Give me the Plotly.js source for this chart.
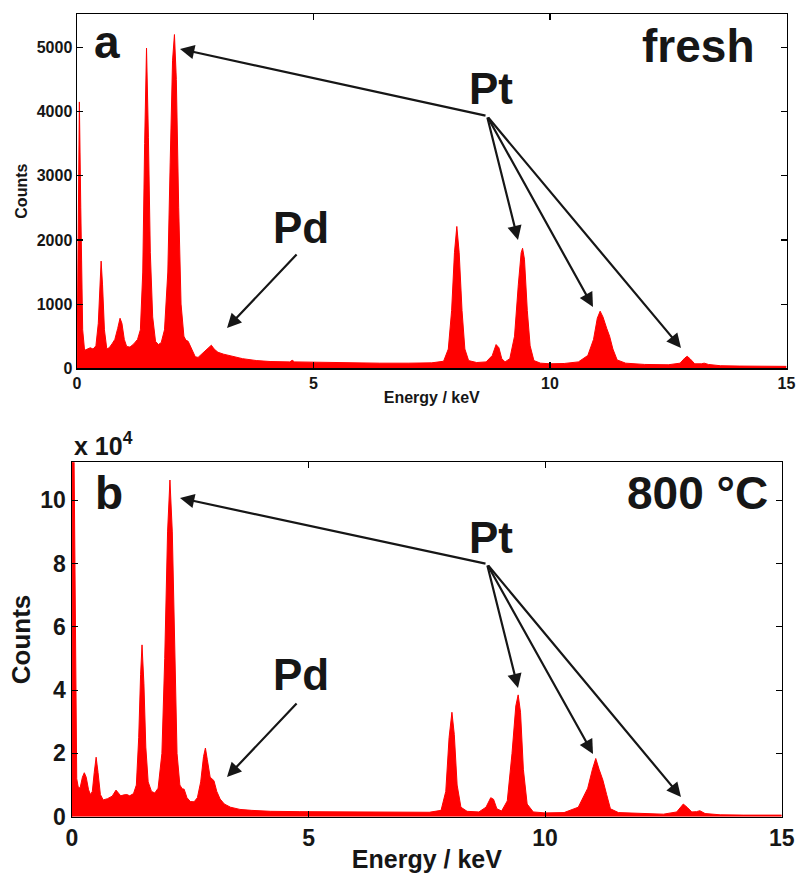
<!DOCTYPE html>
<html>
<head>
<meta charset="utf-8">
<script src="https://cdn.plot.ly/plotly-3.0.1.min.js"></script>
<style>html,body{margin:0;padding:0;background:#fff;}#chart{width:798px;height:873px;}</style>
</head>
<body>
<div id="chart"></div>
<script>
// ---- data ----
const energyA = [0.00,0.02,0.05,0.08,0.12,0.16,0.22,0.28,0.34,0.40,0.45,0.49,0.51,0.54,0.58,0.63,0.68,0.74,0.80,0.86,0.91,0.95,1.00,1.05,1.12,1.20,1.28,1.34,1.39,1.43,1.47,1.51,1.55,1.60,1.66,1.72,1.78,1.85,1.92,1.97,2.02,2.06,2.10,2.15,2.20,2.26,2.30,2.35,2.42,2.50,2.56,2.63,2.70,2.78,2.84,2.90,2.98,3.10,3.30,3.50,3.80,4.10,4.50,4.55,4.60,5.20,5.80,6.40,7.00,7.50,7.75,7.85,7.92,7.98,8.03,8.08,8.14,8.20,8.28,8.45,8.65,8.78,8.86,8.92,8.98,9.05,9.15,9.25,9.33,9.39,9.42,9.46,9.52,9.58,9.66,9.80,10.00,10.30,10.60,10.80,10.92,11.00,11.06,11.12,11.20,11.26,11.33,11.42,11.60,12.00,12.50,12.75,12.85,12.90,12.96,13.06,13.20,13.26,13.35,13.60,14.00,14.50,15.00];
const countsA = [0,2000,4150,2500,600,280,300,320,300,350,700,1400,1670,1300,600,300,320,380,450,620,780,700,450,340,330,380,450,600,1500,3500,4990,3600,1800,800,420,370,400,600,1500,3200,4800,5200,4500,2500,1000,500,440,420,300,180,170,220,260,320,360,300,250,220,180,150,120,105,100,125,100,90,85,80,80,85,110,300,900,1800,2210,1800,900,300,120,90,100,200,370,320,150,100,150,500,1300,1800,1870,1700,900,350,120,80,70,75,100,200,450,780,890,800,620,500,300,130,80,60,55,80,160,187,150,70,70,80,60,40,35,30,30];

const energyB = [0.00,0.01,0.04,0.07,0.10,0.13,0.17,0.22,0.26,0.30,0.35,0.39,0.43,0.47,0.51,0.55,0.60,0.66,0.75,0.85,0.93,0.98,1.03,1.10,1.16,1.22,1.30,1.36,1.41,1.45,1.48,1.52,1.56,1.61,1.68,1.75,1.82,1.90,1.96,2.02,2.07,2.12,2.17,2.22,2.28,2.33,2.37,2.43,2.50,2.58,2.65,2.72,2.78,2.82,2.86,2.92,3.00,3.06,3.13,3.22,3.35,3.55,3.80,4.20,4.80,5.50,6.20,7.00,7.55,7.80,7.90,7.97,8.03,8.08,8.14,8.22,8.35,8.60,8.75,8.85,8.91,8.98,9.08,9.20,9.30,9.38,9.43,9.48,9.54,9.62,9.75,10.00,10.40,10.70,10.90,11.00,11.07,11.14,11.22,11.30,11.38,11.55,12.00,12.50,12.78,12.92,13.00,13.10,13.20,13.27,13.38,13.70,14.20,15.00];
const countsB = [0,120000,120000,50000,12000,9500,9000,12500,13900,12500,8500,7000,8000,14000,18800,14000,7000,5300,5700,6500,8400,7500,6600,6900,7000,6600,7300,10000,25000,45000,54300,42000,22000,11000,8000,7500,9000,20000,50000,90000,106400,90000,50000,20000,10000,8800,8700,6000,4800,4700,6000,11000,19000,21700,18000,12500,11400,8000,5600,4000,3000,2300,2000,1700,1600,1500,1400,1300,1400,2000,8000,25000,33000,26000,10000,3000,1700,1500,3000,6000,5500,2500,1800,5000,20000,35000,38500,33000,15000,4000,1500,1200,1300,3000,9000,15000,18400,15000,11600,7000,2500,1300,1000,800,1500,4000,3000,1500,1600,1900,1000,600,500,500];

const xTicks = [0, 5, 10, 15];
const yTicksA = [0, 1000, 2000, 3000, 4000, 5000];
const yTicksB = [0, 20000, 40000, 60000, 80000, 100000];
const yTickTextB = ['0', '2', '4', '6', '8', '10'];

// ---- layout helpers ----
const W = 798, H = 873;
const px = v => v / W;
const py = v => 1 - v / H;
const FONT = 'Liberation Sans, Arial, sans-serif';
const INK = '#161616';

function arrow(hx, hy, tx, ty) {
  return {xref: 'paper', yref: 'paper', x: px(hx), y: py(hy),
    ax: tx - hx, ay: ty - hy, axref: 'pixel', ayref: 'pixel',
    text: '', showarrow: true, arrowhead: 2, arrowsize: 1.3, arrowwidth: 2.2,
    arrowcolor: INK, standoff: 0, startstandoff: 0};
}
function label(text, cx, cy, size, anchor) {
  return {xref: 'paper', yref: 'paper', x: px(cx), y: py(cy), text: text,
    showarrow: false, xanchor: anchor || 'center', yanchor: 'middle',
    font: {family: FONT, size: size, color: INK, weight: 'bold'}};
}

const traces = [
  {x: energyA, y: countsA, type: 'scatter', mode: 'lines', fill: 'tozeroy',
   line: {color: '#ff0000', width: 1}, fillcolor: '#ff0000', xaxis: 'x', yaxis: 'y', hoverinfo: 'skip'},
  {x: energyB, y: countsB, type: 'scatter', mode: 'lines', fill: 'tozeroy',
   line: {color: '#ff0000', width: 1}, fillcolor: '#ff0000', xaxis: 'x2', yaxis: 'y2', hoverinfo: 'skip'}
];

function axis(extra) {
  return Object.assign({
    showline: true, linecolor: '#000', linewidth: 1.5, mirror: 'ticks',
    ticks: 'inside', ticklen: 6, tickwidth: 1.2, tickcolor: '#000',
    showgrid: false, zeroline: false, automargin: false, fixedrange: true
  }, extra);
}

const layout = {
  width: W, height: H, margin: {l: 0, r: 0, t: 0, b: 0},
  paper_bgcolor: '#fff', plot_bgcolor: '#fff', showlegend: false,
  xaxis: axis({domain: [px(77), px(786.5)], range: [0, 15], tickvals: xTicks, anchor: 'y',
    tickfont: {family: FONT, size: 16, color: INK, weight: 'bold'},
    title: {text: 'Energy / keV', standoff: 1, font: {family: FONT, size: 16, color: INK, weight: 'bold'}}}),
  yaxis: axis({domain: [py(368.3), py(14)], range: [0, 5520], tickvals: yTicksA, anchor: 'x',
    tickfont: {family: FONT, size: 16, color: INK, weight: 'bold'},
    title: {text: 'Counts', standoff: 5, font: {family: FONT, size: 16, color: INK, weight: 'bold'}}}),
  xaxis2: axis({domain: [px(72), px(781.7)], range: [0, 15], tickvals: xTicks, anchor: 'y2',
    tickfont: {family: FONT, size: 23, color: INK, weight: 'bold'},
    title: {text: 'Energy / keV', standoff: 0, font: {family: FONT, size: 25, color: INK, weight: 'bold'}}}),
  yaxis2: axis({domain: [py(816.7), py(462.3)], range: [0, 112000], tickvals: yTicksB, ticktext: yTickTextB, anchor: 'x2',
    tickfont: {family: FONT, size: 23, color: INK, weight: 'bold'},
    title: {text: 'Counts', standoff: 2, font: {family: FONT, size: 26, color: INK, weight: 'bold'}}}),
  annotations: [
    label('a', 107, 42, 46),
    label('fresh', 756, 46, 46, 'right'),
    label('Pt', 491, 89, 44),
    label('Pd', 301, 228, 44),
    arrow(180, 49, 487, 116),
    arrow(518, 240, 487, 116),
    arrow(593, 307, 487, 116),
    arrow(681, 348, 487, 116),
    arrow(227, 328, 298, 253),
    label('b', 109, 493, 46),
    label('800 °C', 770, 493, 46, 'right'),
    label('Pt', 491, 537, 44),
    label('Pd', 301, 674, 44),
    label('x 10<sup>4</sup>', 72, 444, 25, 'left'),
    arrow(180, 498, 487, 564),
    arrow(518, 688, 487, 564),
    arrow(593, 754, 487, 564),
    arrow(681, 797, 487, 564),
    arrow(227, 777, 298, 702)
  ]
};

Plotly.newPlot('chart', traces, layout, {displayModeBar: false, staticPlot: true});
</script>
</body>
</html>
